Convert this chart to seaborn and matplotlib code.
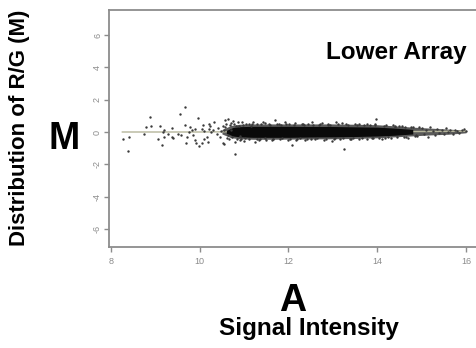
import matplotlib
matplotlib.use("Agg")
import matplotlib.pyplot as plt
import seaborn as sns
import pandas as pd

# ---- data ----
x_ticks = [8, 10, 12, 14, 16]
y_ticks = [-6, -4, -2, 0, 2, 4, 6]

sparse_x = [8.26, 8.40, 8.38, 8.74, 8.79, 8.89, 8.90, 9.05, 9.10, 9.14, 9.17, 9.20, 9.20, 9.28,
            9.37, 9.37, 9.40, 9.50, 9.55, 9.58, 9.67, 9.67, 9.70, 9.71, 9.75, 9.78, 9.82, 9.85,
            9.89, 9.89, 9.92, 9.97, 9.99, 10.04, 10.04, 10.08, 10.10, 10.10, 10.17, 10.20, 10.20,
            10.19, 10.23, 10.25, 10.30, 10.32, 10.38, 10.42, 10.45, 10.48, 10.53, 10.55, 10.57,
            10.64, 10.75, 10.79, 10.87, 10.90]
sparse_y = [-0.45, -0.29, -1.15, -0.10, 0.33, 0.91, 0.35, -0.45, 0.37, -0.80, 0.00, 0.12, -0.28, -0.10,
            -0.33, 0.27, -0.40, -0.10, 1.11, -0.20, 1.52, 0.43, -0.66, -0.28, 0.00, 0.33, 0.12, -0.20,
            0.20, -0.50, -0.70, 0.88, -0.89, 0.16, -0.66, 0.43, 0.05, -0.45, -0.28, 0.49, 0.20,
            -0.60, 0.35, 0.00, 0.10, 0.64, -0.15, 0.25, -0.30, 0.05, -0.70, -0.76, 0.74,
            0.80, 0.70, -1.36, 0.64, -0.50]

fringe_x = [10.60, 10.65, 10.70, 10.80, 10.95, 11.00, 11.10, 11.20, 11.25, 11.30, 11.35, 11.42, 11.50,
            11.55, 11.62, 11.69, 11.75, 11.80, 11.92, 11.98, 12.07, 12.14, 12.20, 12.30, 12.37, 12.45,
            12.52, 12.60, 12.70, 12.80, 12.90, 12.97, 13.08, 13.15, 13.24, 13.30, 13.40, 13.50, 13.60,
            13.70, 13.83, 13.90, 13.98, 14.10, 14.20, 14.30, 14.39, 14.50, 14.60, 14.70, 14.80,
            14.90, 15.00, 15.05, 15.10, 15.15, 15.20, 15.25, 15.30, 15.35, 15.40, 15.45, 15.50, 15.55,
            15.60, 15.65, 15.70, 15.75, 15.80, 15.85, 15.90, 15.95, 16.00]
fringe_y = [0.50, -0.45, 0.55, -0.60, 0.60, -0.55, 0.50, 0.64, -0.60, 0.52, -0.45, 0.60, -0.50,
            0.50, -0.50, 0.74, 0.50, -0.45, 0.64, -0.48, -0.80, 0.55, -0.45, 0.50, -0.50, 0.48,
            0.64, -0.45, 0.50, -0.48, 0.52, -0.53, 0.60, -0.45, -1.07, 0.50, -0.42, 0.48, -0.45,
            0.45, 0.43, -0.40, 0.78, -0.45, 0.42, -0.38, 0.33, 0.38, -0.32, -0.40, 0.30,
            -0.25, 0.25, -0.10, 0.15, -0.28, 0.30, 0.05, -0.20, 0.20, -0.05, 0.12, -0.15, 0.25,
            0.00, 0.10, -0.10, 0.15, 0.05, -0.05, 0.12, 0.18, 0.08]

edge_x = [10.52, 10.58, 10.62, 10.68, 10.72, 10.78, 10.84, 10.88, 10.93, 10.98, 11.05, 11.12, 11.18,
          11.28, 11.38, 11.46, 11.58, 11.66, 11.78, 11.86, 11.95, 12.04, 12.12, 12.25, 12.33, 12.42,
          12.56, 12.64, 12.75, 12.85, 12.94, 13.04, 13.12, 13.22, 13.35, 13.45, 13.55, 13.66, 13.76,
          13.88, 13.95, 14.05, 14.15, 14.25, 14.35, 14.45, 14.55, 14.65, 14.75, 14.85, 14.95,
          10.55, 10.63, 10.71, 10.82, 10.91, 11.03, 11.15, 11.33, 11.48, 11.64, 11.83, 12.01, 12.18,
          12.35, 12.5, 12.68, 12.88, 13.02, 13.2, 13.38, 13.58, 13.78, 13.96, 14.18, 14.4, 14.62, 14.88]
edge_y = [0.40, 0.30, -0.35, 0.42, -0.30, 0.48, -0.42, 0.40, -0.45, 0.46, 0.52, -0.44, 0.47,
          -0.42, 0.48, -0.40, 0.46, -0.44, 0.52, -0.40, 0.47, -0.42, 0.45, -0.40, 0.50, -0.42,
          0.46, -0.40, 0.55, -0.42, 0.45, -0.40, 0.50, -0.38, 0.45, -0.40, 0.44, -0.38, 0.48,
          -0.36, 0.45, -0.35, 0.40, -0.34, 0.42, -0.30, 0.38, -0.30, 0.34, -0.22, 0.30,
          0.15, -0.20, 0.10, 0.35, -0.25, -0.40, 0.40, -0.50, 0.55, -0.42, 0.44, 0.50, -0.50,
          0.46, -0.44, 0.44, 0.46, -0.46, 0.55, -0.44, 0.50, -0.42, 0.52, -0.38, 0.36, 0.30, -0.18]

halo_x = [10.50, 10.70, 10.90, 11.20, 11.60, 12.00, 12.50, 13.00, 13.50, 14.00, 14.40, 14.80, 15.20, 15.60, 16.00]
halo_up = [0.15, 0.40, 0.48, 0.50, 0.50, 0.50, 0.50, 0.50, 0.48, 0.45, 0.38, 0.30, 0.24, 0.18, 0.12]
halo_lo = [-0.12, -0.35, -0.42, -0.45, -0.45, -0.44, -0.43, -0.42, -0.40, -0.36, -0.30, -0.24, -0.18, -0.14, -0.05]

core_x = [10.60, 10.75, 10.90, 11.20, 11.60, 12.00, 12.50, 13.00, 13.50, 14.00, 14.40, 14.80]
core_up = [0.10, 0.28, 0.33, 0.35, 0.35, 0.35, 0.34, 0.34, 0.32, 0.30, 0.24, 0.16]
core_lo = [-0.08, -0.25, -0.30, -0.33, -0.33, -0.33, -0.31, -0.30, -0.28, -0.25, -0.20, -0.12]

loess_x = [8.25, 9.0, 10.0, 11.0, 12.0, 13.0, 14.0, 15.0, 16.0]
loess_y = [0.0, 0.0, 0.0, 0.02, 0.02, 0.02, 0.02, 0.03, 0.05]

# ---- figure ----
sns.set_style("white")
plt.rcParams["font.family"] = ["Liberation Sans", "DejaVu Sans"]

fig = plt.figure(figsize=(4.77, 3.48), dpi=100)
ax = fig.add_axes([109 / 477, 1 - 247 / 348, 1 - 109 / 477, (247 - 10) / 348])

ax.fill_between(halo_x, halo_lo, halo_up, color="#5a5a5a", linewidth=0, zorder=1)
ax.fill_between(core_x, core_lo, core_up, color="#0a0a0a", linewidth=0, zorder=2)

sns.lineplot(x=loess_x, y=loess_y, ax=ax, color="#b5b59a", linewidth=1.0, zorder=1.5)

pts = pd.DataFrame({"A": sparse_x + fringe_x + edge_x, "M": sparse_y + fringe_y + edge_y})
sns.scatterplot(data=pts, x="A", y="M", ax=ax, s=3, color="#3a3a3a", linewidth=0, zorder=3)

ax.set_xlim(7.955, 16.248)
ax.set_ylim(-7.113, 7.546)
ax.set_xticks(x_ticks)
ax.set_xticklabels([str(t) for t in x_ticks])
ax.set_yticks(y_ticks)
ax.set_yticklabels([str(t) for t in y_ticks], rotation=90, va="center")
ax.set_xlabel("")
ax.set_ylabel("")

for side in ["left", "bottom", "top"]:
    ax.spines[side].set_visible(True)
    ax.spines[side].set_color("#8c8c8c")
    ax.spines[side].set_linewidth(1.3)
ax.spines["right"].set_visible(False)
ax.tick_params(axis="both", which="both", direction="out", length=3.5, width=1.0,
               color="#8c8c8c", labelcolor="#8c8c8c", labelsize=6.5, pad=1.5,
               left=True, bottom=True)
ax.tick_params(axis="x", pad=4)

fig.text(396 / 477, 1 - 53 / 348, "Lower Array", fontsize=17.5, fontweight="bold",
         ha="center", va="center", color="black")
fig.text(64 / 477, 1 - 139 / 348, "M", fontsize=27, fontweight="bold",
         ha="center", va="center", color="black")
fig.text(20 / 477, 1 - 128 / 348, "Distribution of R/G (M)", fontsize=16, fontweight="bold",
         rotation=90, ha="center", va="center", color="black")
fig.text(293 / 477, 1 - 301 / 348, "A", fontsize=27, fontweight="bold",
         ha="center", va="center", color="black")
fig.text(309 / 477, 1 - 329 / 348, "Signal Intensity", fontsize=17.5, fontweight="bold",
         ha="center", va="center", color="black")

fig.savefig("out.png", dpi=100)
